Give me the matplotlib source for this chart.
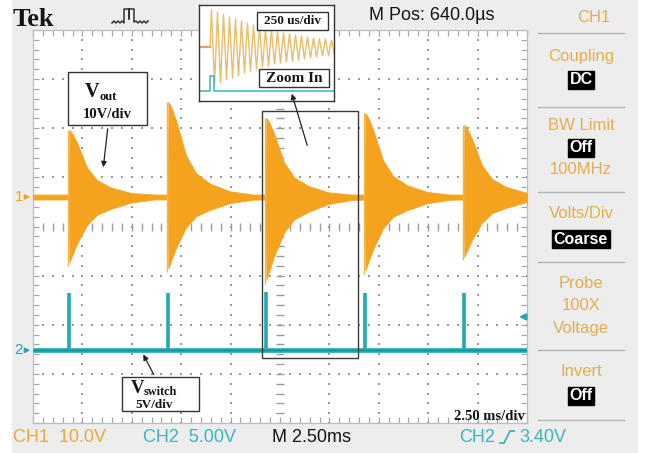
import matplotlib
matplotlib.use('Agg')
import matplotlib.pyplot as plt
import numpy as np
from matplotlib.patches import Rectangle

W, H = 647, 453

# ---------------- data ----------------
ms_per_div = 2.5
ch1_volts_per_div = 10.0
ch2_volts_per_div = 5.0
ch1_offset_div = 0.6
ch2_offset_div = -2.52
trigger_level_V = 3.40

burst_times_ms = [1.82, 6.83, 11.79, 16.80, 21.81]
burst_peak_up_V = [13.7, 19.4, 16.1, 17.1, 14.7]
burst_peak_dn_V = [13.3, 14.5, 16.9, 14.9, 12.2]
decay_t_ms = [0.0, 0.02, 0.15, 0.40, 0.91, 1.42, 2.13, 3.14, 4.30]
decay_up_frac = [0.0, 1.0, 0.95, 0.81, 0.44, 0.25, 0.14, 0.06, 0.025]
decay_dn_frac = [0.0, 1.0, 0.90, 0.72, 0.43, 0.27, 0.18, 0.085, 0.037]
ch1_noise_V = 0.5

switch_times_ms = [1.82, 6.83, 11.79, 16.80, 21.81]
switch_peak_V = [5.8, 5.8, 5.9, 5.8, 5.8]

# zoomed inset (250 us/div)
inset_period_us = 30.0
inset_up_V = [16.1, 15.2, 14.3, 13.0, 12.2, 11.3, 10.4, 9.6, 8.7, 7.8, 7.4,
              6.5, 6.1, 5.7, 5.2, 4.8, 4.3, 3.9, 3.5, 3.5, 3.0]
inset_dn_V = [16.5, 15.7, 14.3, 13.5, 12.6, 11.3, 10.4, 9.6, 8.7, 8.3, 7.4,
              7.0, 6.5, 6.1, 5.7, 5.2, 4.8, 4.3, 3.9, 3.9, 3.5]
inset_pulse_us = [0.0, 22.0]
inset_pulse_V = 6.5

menu_items = [("CH1", 17), ("Coupling", 57), ("BW Limit", 125), ("100MHz", 170),
              ("Volts/Div", 213), ("Probe", 283), ("100X", 306), ("Voltage", 328),
              ("Invert", 371)]
menu_boxes = [("DC", 80), ("Off", 148), ("Coarse", 239), ("Off", 396)]
menu_seps = [33, 107, 192, 262, 350, 420]

ORANGE = '#F5A31E'
CYAN = '#22AAB3'
GOLD = '#E4AE4C'
CYTXT = '#3DB3BE'
SANS = ['Liberation Sans', 'DejaVu Sans']
SERIF = ['Liberation Serif', 'DejaVu Serif']

fig = plt.figure(figsize=(W / 100, H / 100), dpi=100)
fig.patch.set_facecolor('#EDEDED')

def fbox(x0, y0, x1, y1):
    return [x0 / W, 1 - y1 / H, (x1 - x0) / W, (y1 - y0) / H]

# ---------------- main scope screen ----------------
ax = fig.add_axes(fbox(33, 30, 527, 423))
ax.set_facecolor('white')
ax.set_zorder(1)
ax.set_xlim(0, 10 * ms_per_div)
ax.set_ylim(-4, 4)
ax.set_xticks(np.arange(0, 25.01, ms_per_div))
ax.set_xticks(np.arange(0, 25.01, ms_per_div / 5), minor=True)
ax.set_yticks(np.arange(-4, 4.01, 1))
ax.set_yticks(np.arange(-4, 4.01, 0.2), minor=True)
ax.tick_params(which='both', direction='in', length=4, width=0.9, color='#A8A8A8',
               top=True, right=True, labelbottom=False, labelleft=False)
for s in ax.spines.values():
    s.set_color('#BDBDBD')
    s.set_linewidth(0.9)

# dotted graticule
yd = np.arange(-4, 4.01, 0.2)
xd = np.arange(0, 25.01, ms_per_div / 5)
for k in range(1, 10):
    xv = k * ms_per_div
    if k == 5:
        ax.plot(np.full_like(yd, xv), yd, ls='', marker='_', ms=6, mew=1.0, color='#9C9C9C', zorder=2)
    else:
        ax.plot(np.full_like(yd, xv), yd, ls='', marker='s', ms=1.8, mew=0, color='#9A9A9A', zorder=2)
for j in range(-3, 4):
    if j == 0:
        ax.plot(xd, np.zeros_like(xd), ls='', marker='|', ms=6, mew=1.0, color='#9C9C9C', zorder=2)
    else:
        ax.plot(xd, np.full_like(xd, j), ls='', marker='s', ms=1.8, mew=0, color='#9A9A9A', zorder=2)

# CH1 output (burst envelopes)
t_all = [0.0]
up_all = [ch1_noise_V]
dn_all = [ch1_noise_V]
for tb, pu, pd in zip(burst_times_ms, burst_peak_up_V, burst_peak_dn_V):
    for dt, fu, fd in zip(decay_t_ms, decay_up_frac, decay_dn_frac):
        t_all.append(tb + dt)
        up_all.append(max(ch1_noise_V, pu * fu))
        dn_all.append(max(ch1_noise_V, pd * fd))
t_all.append(25.0)
up_all.append(ch1_noise_V)
dn_all.append(ch1_noise_V)
t_all = np.array(t_all)
y_up = ch1_offset_div + np.array(up_all) / ch1_volts_per_div
y_dn = ch1_offset_div - np.array(dn_all) / ch1_volts_per_div
ax.fill_between(t_all, y_dn, y_up, color=ORANGE, lw=0.6, edgecolor=ORANGE, zorder=3)
# leading spike at each burst
for tb, pu, pd in zip(burst_times_ms, burst_peak_up_V, burst_peak_dn_V):
    ax.vlines(tb - 0.04, ch1_offset_div - pd * 1.05 / ch1_volts_per_div,
              ch1_offset_div + pu / ch1_volts_per_div, color='#F2B64A', lw=1.0, zorder=3)

# CH2 switch signal
ax.plot([0, 25], [ch2_offset_div, ch2_offset_div], color=CYAN, lw=3.4, zorder=3,
        solid_capstyle='butt')
ax.plot([0, 25], [ch2_offset_div, ch2_offset_div], color='#138F98', lw=0.8, zorder=3)
ax.vlines(switch_times_ms, ch2_offset_div,
          ch2_offset_div + np.array(switch_peak_V) / ch2_volts_per_div,
          color=CYAN, lw=2.6, zorder=3)

# channel markers and trigger arrow
for off, lab, col in [(ch1_offset_div, '1', ORANGE), (ch2_offset_div, '2', CYAN)]:
    ax.annotate('', xy=(0.0, off), xytext=(-0.5, off), xycoords='data',
                arrowprops=dict(arrowstyle='-|>', color=col, lw=1.2, mutation_scale=7),
                annotation_clip=False)
    ax.text(-0.5, off, lab, color=col, fontsize=11, ha='right', va='center',
            family=SANS, clip_on=False)
ytrig = ch2_offset_div + trigger_level_V / ch2_volts_per_div
ax.annotate('', xy=(24.45, ytrig), xytext=(25.0, ytrig), xycoords='data',
            arrowprops=dict(arrowstyle='-|>', color=CYAN, lw=1.6, mutation_scale=9),
            annotation_clip=False)

# ---------------- inset (zoom) ----------------
ai = fig.add_axes(fbox(199, 5, 334, 101))
ai.set_zorder(4)
ai.set_facecolor('white')
ai.set_xlim(-55, 620)
ai.set_ylim(-23.5, 18.3)
ai.set_xticks([])
ai.set_yticks([])
for s in ai.spines.values():
    s.set_color('#333333')
    s.set_linewidth(1.0)
ti = [-55.0, 0.0]
vi = [0.0, 0.0]
for k, (u, d) in enumerate(zip(inset_up_V, inset_dn_V)):
    ti += [k * inset_period_us + inset_period_us / 4, k * inset_period_us + 3 * inset_period_us / 4]
    vi += [u, -d]
ai.plot(ti, vi, color='#E8BE6A', lw=1.0)
ai.plot([-55, 0], [0, 0], color='#E6A848', lw=1.6)
base2 = -19.1
ai.plot([-55, inset_pulse_us[0], inset_pulse_us[0], inset_pulse_us[1], inset_pulse_us[1], 620],
        [base2, base2, base2 + inset_pulse_V, base2 + inset_pulse_V, base2, base2],
        color='#3AB3BE', lw=1.1)

# ---------------- overlay (texts, boxes) ----------------
ov = fig.add_axes([0, 0, 1, 1])
ov.set_zorder(6)
ov.set_xlim(0, W)
ov.set_ylim(H, 0)
ov.axis('off')
ov.patch.set_alpha(0)
ov.add_patch(Rectangle((0, 0), 12, H, facecolor='white', edgecolor='none', zorder=0))
ov.add_patch(Rectangle((638, 0), 9, H, facecolor='white', edgecolor='none', zorder=0))

ov.text(13, 19, 'Tek', fontsize=19, fontweight='bold', family=SERIF, ha='left',
        va='center', color='#151515')
ov.plot([112, 114, 116, 118, 120, 122, 124, 124, 129, 129, 129, 134, 134, 136, 138, 140, 142, 144, 146, 148],
        [23, 21, 23, 21, 23, 21, 23, 9, 9, 19, 9, 9, 22, 21, 23, 21, 23, 21, 23, 21],
        color='#333333', lw=1.1)
ov.text(369, 15, 'M Pos: 640.0\u00b5s', fontsize=13, family=SANS, ha='left', va='center',
        color='#151515')

# right menu
for txt, y in menu_items:
    xc = 594 if txt == 'CH1' else 581
    ov.text(xc, y, txt, fontsize=12, family=SANS, ha='center', va='center', color=GOLD)
for txt, y in menu_boxes:
    ov.text(581, y, txt, fontsize=11.5, family=SANS, fontweight='bold', ha='center',
            va='center', color='white',
            bbox=dict(boxstyle='square,pad=0.12', facecolor='black', edgecolor='black'))
for y in menu_seps:
    ov.plot([538, 624], [y, y], color='#B4B4B4', lw=1.0)

# status row
ov.text(13, 437, 'CH1  10.0V', fontsize=13, family=SANS, ha='left', va='center', color='#E6A93F')
ov.text(143, 437, 'CH2  5.00V', fontsize=13, family=SANS, ha='left', va='center', color=CYTXT)
ov.text(272, 437, 'M 2.50ms', fontsize=13, family=SANS, ha='left', va='center', color='#151515')
ov.text(459, 437, 'CH2', fontsize=13, family=SANS, ha='left', va='center', color=CYTXT)
ov.plot([500, 504, 510, 514], [443, 443, 431, 431], color=CYTXT, lw=1.3)
ov.text(519, 437, '3.40V', fontsize=13, family=SANS, ha='left', va='center', color=CYTXT)

# zoom rectangle
ov.add_patch(Rectangle((262, 111), 96, 247, facecolor='none', edgecolor='#3A3A3A', lw=1.0))

# Vout label box
ov.add_patch(Rectangle((68, 72), 79, 53, facecolor='white', edgecolor='#333333', lw=1.0))
ov.text(85, 97, 'V', fontsize=14.5, fontweight='bold', family=SERIF, ha='left',
        va='baseline', color='#151515')
ov.text(100, 100, 'out', fontsize=9, fontweight='bold', family=SERIF, ha='left',
        va='baseline', color='#151515')
ov.text(107, 115, '10V/div', fontsize=10.5, fontweight='bold', family=SERIF, ha='center',
        va='center', color='#151515')
ov.annotate('', xy=(103, 170), xytext=(108, 126),
            arrowprops=dict(arrowstyle='-|>', color='#222222', lw=0.9, mutation_scale=8))

# Vswitch label box
ov.add_patch(Rectangle((122, 377), 77, 34, facecolor='white', edgecolor='#333333', lw=1.0))
ov.text(131, 393, 'V', fontsize=13.5, fontweight='bold', family=SERIF, ha='left',
        va='baseline', color='#151515')
ov.text(144, 395, 'switch', fontsize=8.8, fontweight='bold', family=SERIF, ha='left',
        va='baseline', color='#151515')
ov.text(154, 408.5, '5V/div', fontsize=9.5, fontweight='bold', family=SERIF, ha='center',
        va='baseline', color='#151515')
ov.annotate('', xy=(142, 352), xytext=(155, 377),
            arrowprops=dict(arrowstyle='-|>', color='#222222', lw=0.9, mutation_scale=8))

# inset labels
ov.add_patch(Rectangle((257, 12), 71, 18, facecolor='white', edgecolor='#333333', lw=1.0))
ov.text(292.5, 21, '250 us/div', fontsize=9.5, fontweight='bold', family=SERIF,
        ha='center', va='center', color='#151515')
ov.add_patch(Rectangle((259, 69), 70, 18, facecolor='white', edgecolor='#333333', lw=1.0))
ov.text(294, 78, 'Zoom In', fontsize=11, fontweight='bold', family=SERIF,
        ha='center', va='center', color='#151515')
ov.annotate('', xy=(291, 91), xytext=(308, 148),
            arrowprops=dict(arrowstyle='-|>', color='#222222', lw=0.9, mutation_scale=8))

ov.text(525, 416, '2.50 ms/div', fontsize=10.5, fontweight='bold', family=SERIF,
        ha='right', va='center', color='#151515')

fig.savefig('out.png', dpi=100, facecolor=fig.get_facecolor())
